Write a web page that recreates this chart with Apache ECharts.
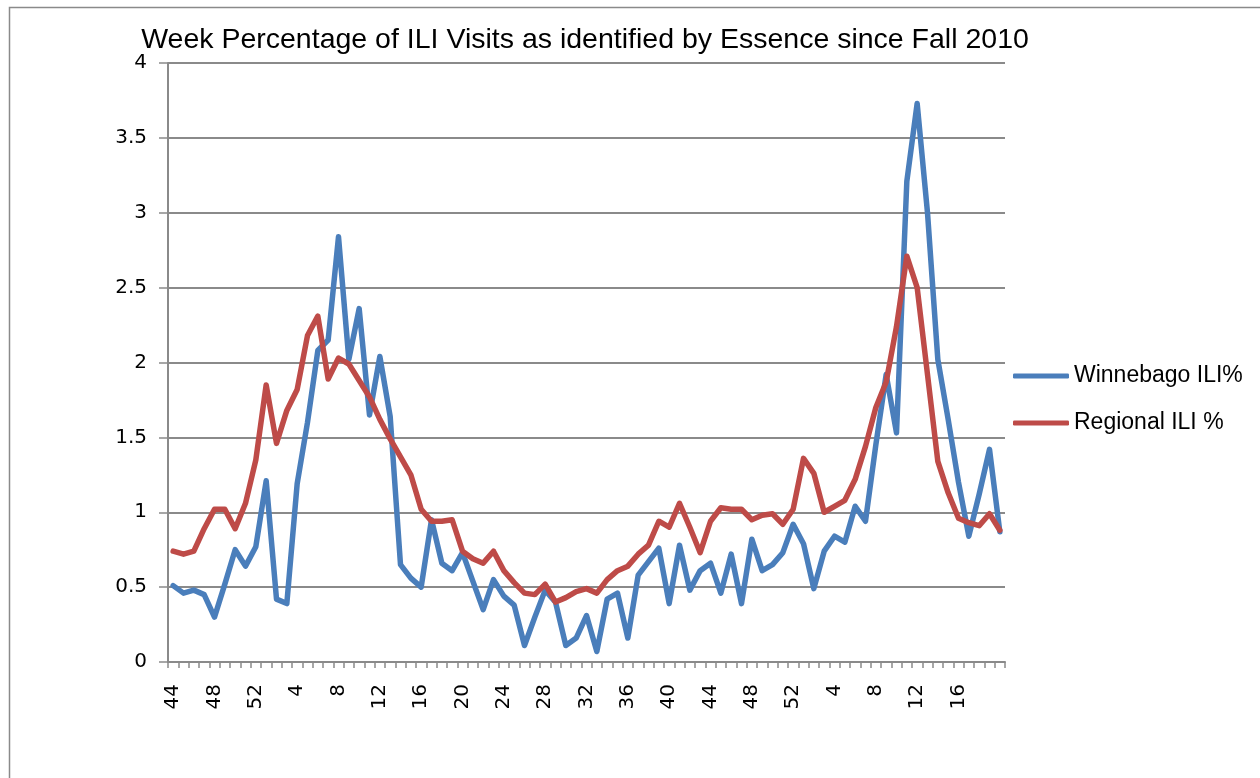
<!DOCTYPE html>
<html>
<head>
<meta charset="utf-8">
<script src="https://cdn.jsdelivr.net/npm/echarts@6/dist/echarts.min.js"></script>
<style>html,body{margin:0;padding:0;background:#fff;}#c{width:1260px;height:778px;}</style>
</head>
<body>
<div id="c"></div>
<script>
// Week labels: 2010 wk 44-52, 2011 wk 1-52, 2012 wk 1-20
const weeks = [44,45,46,47,48,49,50,51,52,
  1,2,3,4,5,6,7,8,9,10,11,12,13,14,15,16,17,18,19,20,21,22,23,24,25,26,27,28,29,30,
  31,32,33,34,35,36,37,38,39,40,41,42,43,44,45,46,47,48,49,50,51,52,
  1,2,3,4,5,6,7,8,9,10,11,12,13,14,15,16,17,18,19,20];

const winnebago = [0.51,0.46,0.48,0.45,0.30,0.52,0.75,0.64,0.77,1.21,
  0.42,0.39,1.19,1.60,2.08,2.15,2.84,2.02,2.36,1.65,
  2.04,1.64,0.65,0.56,0.50,0.95,0.66,0.61,0.73,0.54,
  0.35,0.55,0.44,0.38,0.11,0.30,0.48,0.40,0.11,0.16,
  0.31,0.07,0.42,0.46,0.16,0.58,0.67,0.76,0.39,0.78,
  0.48,0.61,0.66,0.46,0.72,0.39,0.82,0.61,0.65,0.73,
  0.92,0.79,0.49,0.74,0.84,0.80,1.04,0.94,1.45,1.92,
  1.53,3.21,3.73,3.00,2.02,1.62,1.20,0.84,1.12,1.42,0.87];

const regional = [0.74,0.72,0.74,0.89,1.02,1.02,0.89,1.06,1.35,1.85,
  1.46,1.68,1.82,2.18,2.31,1.89,2.03,1.99,1.88,1.77,
  1.62,1.49,1.37,1.25,1.02,0.94,0.94,0.95,0.74,0.69,
  0.66,0.74,0.61,0.53,0.46,0.45,0.52,0.40,0.43,0.47,
  0.49,0.46,0.55,0.61,0.64,0.72,0.78,0.94,0.90,1.06,
  0.90,0.73,0.94,1.03,1.02,1.02,0.95,0.98,0.99,0.92,
  1.02,1.36,1.26,1.00,1.04,1.08,1.22,1.44,1.70,1.87,
  2.24,2.71,2.50,1.92,1.34,1.13,0.96,0.93,0.91,0.99,0.88];

const seriesNames = ['Winnebago ILI%', 'Regional ILI %'];
const titleText = 'Week Percentage of ILI Visits as identified by Essence since Fall 2010';

const chart = echarts.init(document.getElementById('c'), null, {renderer: 'canvas'});
const gray = '#8a8a8a';
const labelFont = "'DejaVu Sans', Verdana, sans-serif";
const textFont = "'Liberation Sans', Arial, sans-serif";

chart.setOption({
  animation: false,
  backgroundColor: '#fff',
  graphic: [{
    type: 'rect', left: 7, top: 5,
    shape: {width: 1300, height: 800},
    style: {fill: 'none', stroke: gray, lineWidth: 1.5},
    silent: true
  }],
  title: {
    text: titleText,
    left: 580, top: 21, textAlign: 'center',
    textStyle: {fontFamily: textFont, fontSize: 28.5, fontWeight: 'normal', color: '#000'}
  },
  legend: {
    orient: 'vertical',
    left: 1008, top: 359,
    icon: 'roundRect',
    itemWidth: 56, itemHeight: 5,
    itemGap: 23,
    textStyle: {fontFamily: textFont, fontSize: 23, color: '#000', lineHeight: 24},
    data: seriesNames
  },
  grid: {left: 168, right: 255, top: 63, bottom: 116, containLabel: false},
  xAxis: {
    type: 'category',
    data: weeks,
    boundaryGap: true,
    axisLine: {show: true, lineStyle: {color: gray, width: 2}},
    axisTick: {show: true, interval: 0, length: 6, lineStyle: {color: gray, width: 1.5}},
    axisLabel: {
      interval: function (i) { return i % 4 === 0 && i < 80; },
      rotate: 90, margin: 22,
      fontFamily: labelFont, fontSize: 20, color: '#000'
    },
    splitLine: {show: false}
  },
  yAxis: {
    type: 'value',
    min: 0, max: 4, interval: 0.5,
    axisLine: {show: true, lineStyle: {color: gray, width: 2}},
    axisTick: {show: true, length: 9, lineStyle: {color: gray, width: 1.5}},
    axisLabel: {margin: 21, fontFamily: labelFont, fontSize: 20, color: '#000'},
    splitLine: {show: true, lineStyle: {color: gray, width: 1.8}}
  },
  series: [
    {
      name: seriesNames[0], type: 'line', data: winnebago,
      symbol: 'none', smooth: false,
      lineStyle: {color: '#4a7ebb', width: 5.5, cap: 'round', join: 'round'},
      itemStyle: {color: '#4a7ebb'}
    },
    {
      name: seriesNames[1], type: 'line', data: regional,
      symbol: 'none', smooth: false,
      lineStyle: {color: '#be4b48', width: 5.5, cap: 'round', join: 'round'},
      itemStyle: {color: '#be4b48'}
    }
  ]
});
</script>
</body>
</html>
